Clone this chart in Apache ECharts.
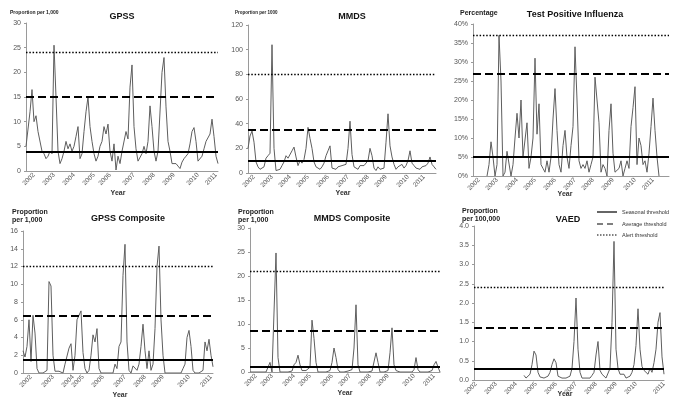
<!DOCTYPE html>
<html><head><meta charset="utf-8">
<script src="https://cdn.jsdelivr.net/npm/echarts@6/dist/echarts.min.js"></script>
<style>html,body{margin:0;padding:0;background:#fff}#c{width:683px;height:409px}</style>
</head><body><div id="c"></div>
<script>
const years = ['2002','2003','2004','2005','2006','2007','2008','2009','2010','2011'];

// GPSS (proportion per 1,000)
const gpss = [5,8.5,12,16.5,10,11.2,8,8,4,3.5,2.5,3,4,3.5,25.5,15,4,1.5,2.5,4,6,4.5,5.5,4,5,7,9,2.5,3.5,8,12,15,9,6,3.5,2,3,5,6,9,7.5,9.5,4,2,5.5,0.2,3,1.5,4,4,8,6.5,17,21.5,9,4.5,2,1.8,3.5,5,3.5,6,13.2,9,4,2,4,4.2,20,23,13,6,4,1.5,1.2,1.5,1,0.5,1.8,2.5,3,3.5,5.5,8,8.8,6,2,2,3,4.5,6,6,7.5,10.5,7,3,1.5];
const gpssYearIdx = [4,14,24,34,42,54,64,74,86,95];
const gpssThr = [4,15,24];

// MMDS (proportion per 1000)
const mmds = [20,30,34,25,9,5,3,2,5,12,14,16,104,20,2,2,3,6,9,14,12,11,18,21,13,6,10,8,11,20,37,28,20,9,5,4,3,5,8,14,18,22,4,4,3,5,4,6,6,7,20,42,15,5,4,3,6,5,6,6,10,20,14,4,2,5,3,2,4,25,48,22,13,7,3,5,4,7,4,6,10,18,8,6,4,5,3,5,4,6,8,13,7,5,3];
const mmdsYearIdx = [3,12,21,30,40,50,60,69,80,88];
const mmdsThr = [10,35,80];

// Test positive influenza (%)
const tpi = [null,null,null,null,null,null,null,0,3,9,5,0,3,37,25,0,1,6.5,7,0,3,10,16.5,10,20,5,5,14,2,5,10,31,11,19,3,2,1,4,1,5,15,23,12,3,1,8,12,5,2,8,13,34,20,4,2,3,2,4,1,3,5,26,20,14,1,3,2,0,12,19,6,1,1,2,4,0,2,4,2,13,18,23.5,3,10,8,3,4,1,6,13,20.5,12,5,0,null,null,null,null,null];
const tpiYearIdx = [3,12,22,31,41,51,60,70,81,90];
const tpiThr = [5,27,37];

// GPSS Composite (proportion per 1,000)
const gpssC = [2.5,1.8,3,6,1.3,6.5,4.5,0.5,0,0,0,0,0.3,10.3,9.8,2,0.2,0,0.2,0.2,0,1,1,2.8,3.3,0.3,2,6,6.5,7,2.3,0.5,0,0.3,2,4.3,3.5,5,0.5,0,0,0,0,0,0,0,1,0.5,3,3.5,11,14.5,3.5,0.3,0,0.8,1,0.3,1,3,5.5,2.5,0.5,2.5,0.3,1,5,12,14.3,6,2,0,0,0,0.2,0,0,0,0,0,0.5,1,4,4.8,3,0.3,0,0,0,0,0.3,3.5,2.5,3.8,2,0.7];
const gpssCYearIdx = [4,15,25,30,40,51,61,70,83,94];
const gpssCThr = [1.5,6.5,12];

// MMDS Composite (proportion per 1,000)
const mmdsC = [0,0,0,0,0,0,0,0,0,0.3,2,0,0.2,24.8,3,0,0,0,0,0,0,0.2,1.5,2,3.5,1.5,0.3,0.5,0.3,0.3,1,10.8,7,2,0,0,0,0,0,0,0.3,2,5,3,0.5,0,0,0,0.2,0.2,0.3,0.5,5,14,1.5,0,0,0,0,0,0,0.2,0.3,4,2,0,0,0,0,0.3,4,9.2,1.5,0.3,0,0,0,0,0,0,0,0,0.5,3,0.5,0,0,0,0,0,0.2,0.3,1.5,2.2,1,0];
const mmdsCYearIdx = [3,11,22,30,41,50,60,69,82,92];
const mmdsCThr = [1,8.5,21];

// VAED (proportion per 100,000)
const vaed = [null,null,null,null,null,null,null,null,null,null,null,null,null,null,null,null,null,null,null,null,null,null,null,null,null,0.12,0.05,0.05,0.15,0.4,0.75,0.65,0.2,0.08,0.05,0.05,0.08,0.1,0.2,0.4,0.55,0.45,0.1,0.05,0.05,0.05,0.05,0.05,0.1,0.3,1.0,2.13,0.8,0.2,0.05,0.05,0.05,0.05,0.05,0.12,0.2,0.65,1.0,0.25,0.15,0.15,0.05,0.1,0.3,1.5,3.6,0.8,0.3,0.15,0.2,0.15,0.05,0.05,0.1,0.2,0.4,0.9,1.85,0.8,0.35,0.25,0.3,0.15,0.3,0.2,0.45,0.8,1.5,1.75,0.6,0.15];
const vaedYearIdx = [1,11,21,31,41,51,61,71,81,95];
const vaedThr = [0.3,1.35,2.4];

const thrNames = ['Seasonal threshold','Average threshold','Alert threshold'];

const FONT = "'Liberation Sans', Arial, sans-serif";
const panels = [
  {title:'GPSS', data:gpss, yi:gpssYearIdx, thr:gpssThr, box:[26,23,192,148], max:30, iv:5, fmt:v=>v, tx:122, ty:12, yName:['Proportion per 1,000'], nx:10, ny:12, nfs:5, yearX:118, yearY:193},
  {title:'MMDS', data:mmds, yi:mmdsYearIdx, thr:mmdsThr, box:[248,25,188,148], max:120, iv:20, fmt:v=>v, tx:352, ty:12, yName:['Proportion per 1000'], nx:235, ny:13, nfs:4.5, yearX:343, yearY:193},
  {title:'Test Positive Influenza', data:tpi, yi:tpiYearIdx, thr:tpiThr, box:[473,24,196,152], max:40, iv:5, fmt:v=>v+'%', tx:575, ty:10, yName:['Percentage'], nx:460, ny:13, nfs:7, yearX:565, yearY:194},
  {title:'GPSS Composite', data:gpssC, yi:gpssCYearIdx, thr:gpssCThr, box:[23,231,190,142], max:16, iv:2, fmt:v=>v, tx:128, ty:214, yName:['Proportion','per 1,000'], nx:12, ny:216, nfs:7, yearX:120, yearY:395},
  {title:'MMDS Composite', data:mmdsC, yi:mmdsCYearIdx, thr:mmdsCThr, box:[250,228,190,144], max:30, iv:5, fmt:v=>v, tx:352, ty:214, yName:['Proportion','per 1,000'], nx:238, ny:216, nfs:7, yearX:345, yearY:393},
  {title:'VAED', data:vaed, yi:vaedYearIdx, thr:vaedThr, box:[474,226,190,154], max:4, iv:0.5, fmt:v=>v.toFixed(1), tx:568, ty:215, yName:['Proportion','per 100,000'], nx:462, ny:215, nfs:7, yearX:565, yearY:394}
];

const grid=[], xAxis=[], yAxis=[], series=[], title=[], graphic=[];
const thrStyles = [
  {type:'solid', width:2},
  {type:[8,4], width:2},
  {type:[1.5,1.8], width:1.4}
];
panels.forEach((p,i)=>{
  const [l,t,w,h] = p.box;
  grid.push({left:l, top:t, width:w, height:h, containLabel:false});
  const cats = p.data.map((_,k)=>{const j=p.yi.indexOf(k); return j>=0?years[j]:'';});
  xAxis.push({type:'category', gridIndex:i, data:cats, boundaryGap:false,
    axisLine:{lineStyle:{color:'#9a9a9a', width:1}}, axisTick:{show:false},
    axisLabel:{interval:0, rotate:45, margin:3, fontSize:6.5, color:'#555', fontFamily:FONT},
    splitLine:{show:false}});
  yAxis.push({type:'value', gridIndex:i, min:0, max:p.max, interval:p.iv,
    axisLine:{show:true, lineStyle:{color:'#9a9a9a', width:1}},
    axisTick:{show:true, length:2, lineStyle:{color:'#9a9a9a'}},
    axisLabel:{fontSize:7, color:'#555', margin:5, fontFamily:FONT, formatter:p.fmt},
    splitLine:{show:false}});
  series.push({type:'line', xAxisIndex:i, yAxisIndex:i, data:p.data, symbol:'none',
    lineStyle:{color:'#5e5e5e', width:1}, connectNulls:false, silent:true,
    markLine:{silent:true, symbol:'none', label:{show:false}, animation:false,
      data:p.thr.map((v,k)=>({yAxis:v, lineStyle:Object.assign({color:'#000'}, thrStyles[k])}))}});
  title.push({text:p.title, left:p.tx, top:p.ty, textAlign:'center', padding:0,
    textStyle:{fontSize:9, fontWeight:'bold', color:'#111', fontFamily:FONT}});
  graphic.push({type:'text', left:p.nx, top:p.ny - (p.yName.length*p.nfs)/2 - (p.yName.length>1?0.5:0),
    style:{text:p.yName.join('\n'), font:'bold '+p.nfs+'px '+FONT, fill:'#222', lineHeight:p.nfs+0.5}});
  graphic.push({type:'text', x:p.yearX, y:p.yearY,
    style:{text:'Year', font:'bold 7px '+FONT, fill:'#333', align:'center', verticalAlign:'middle'}});
});

// threshold key on the VAED panel
const keyDash = [null, [6,4], [1.5,1.5]];
const keyY = [212, 224, 235];
thrNames.forEach((n,k)=>{
  graphic.push({type:'line', shape:{x1:597, y1:keyY[k], x2:617, y2:keyY[k]},
    style:{stroke:'#000', lineWidth:1.2, lineDash:keyDash[k]}});
  graphic.push({type:'text', x:622, y:keyY[k],
    style:{text:n, font:'5.5px '+FONT, fill:'#333', verticalAlign:'middle'}});
});

const chart = echarts.init(document.getElementById('c'), null, {renderer:'canvas'});
chart.setOption({
  animation:false,
  backgroundColor:'#fff',
  title, grid, xAxis, yAxis, series, graphic
});
</script></body></html>
